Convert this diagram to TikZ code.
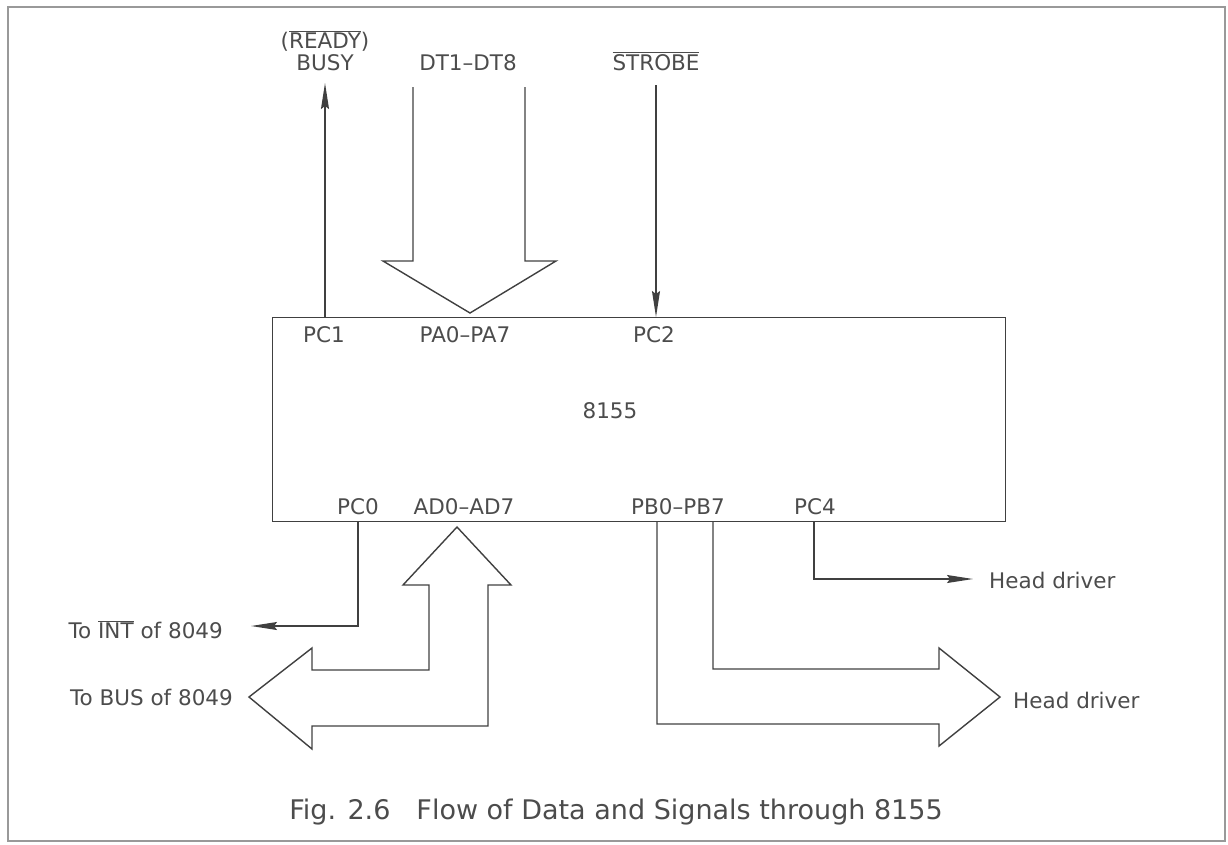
\documentclass[tikz,border=0pt]{standalone}
\usepackage{fontspec}
\setmainfont{DejaVu Sans}
\usepackage{tikz}
\usetikzlibrary{arrows.meta}
\usetikzlibrary{shapes,arrows}
\usetikzlibrary{calc}

\begin{document}
\begin{tikzpicture}[x=1pt,y=-1pt]
\tikzstyle{etiq}=[inner sep=0pt,anchor=base,text=black!70,font=\fontsize{21.5}{24}\selectfont]
\tikzstyle{boitier}=[rectangle,draw=black!75,line width=1.4pt,inner sep=0pt,anchor=north west]
\tikzstyle{bus}=[draw=black!75,line width=1.4pt,line join=miter]
\tikzstyle{suite}=[-{Stealth[length=26pt,width=8pt,inset=3pt]},draw=black!75,line width=1.4pt]

\useasboundingbox (0,0) rectangle (1228,844);
\draw[black!40,line width=1.2pt] (8,7) rectangle (1225,841);

\node[boitier,minimum width=733pt,minimum height=204pt] (puce) at (272,317) {};
\node[etiq] (nom) at (610,418) {8155};

\node[etiq] (lready) at (325,48) {($\overline{\mbox{READY}}$)};
\node[etiq] (lbusy) at (325,70) {BUSY};
\node[etiq] (ldt) at (468,70) {DT1–DT8};
\node[etiq] (lstrobe) at (656,70) {$\overline{\mbox{STROBE}}$};

\node[etiq] (lpc1) at (324,342) {PC1};
\node[etiq] (lpa) at (465,342) {PA0–PA7};
\node[etiq] (lpc2) at (654,342) {PC2};
\node[etiq] (lpc0) at (358,514) {PC0};
\node[etiq] (lad) at (464,514) {AD0–AD7};
\node[etiq] (lpb) at (678,514) {PB0–PB7};
\node[etiq] (lpc4) at (815,514) {PC4};

\node[etiq,anchor=base east] (lint) at (223,638) {To $\overline{\mbox{INT}}$ of 8049};
\node[etiq,anchor=base east] (lbus) at (233,705) {To BUS of 8049};
\node[etiq,anchor=base west] (ltete) at (989,588) {Head driver};
\node[etiq,anchor=base west] (ltetes) at (1013,708) {Head driver};

\node[etiq,font=\fontsize{27}{32}\selectfont] (legende) at (616,819)
  {Fig. 2.6\hspace{26pt}Flow of Data and Signals through 8155};

\coordinate (pc1) at (325,317);
\coordinate (busy) at (325,83);
\coordinate (strobe) at (656,85);
\coordinate (pc2) at (656,317);
\coordinate (pc0) at (358,521);
\coordinate (int) at (251,626);
\coordinate (pc4) at (814,521);
\coordinate (tete) at (973,579);
\coordinate (pa) at (470,313);
\coordinate (ad) at (457,527);
\coordinate (pb) at (1000,697);

\draw[suite] (pc1) -- (busy);
\draw[suite] (strobe) -- (pc2);
\draw[suite] (pc0) |- (int);
\draw[suite] (pc4) |- (tete);

\draw[bus] (413,87) |- ($(pa)+(-87,-52)$) -- (pa) -- ($(pa)+(86,-52)$) -| (525,87);
\draw[bus] (ad) -- ++(54,58) -- ++(-23,0) |- (312,726) -- ++(0,23) -- (249,697)
  -- (312,648) -- ++(0,22) -| (429,585) -- ++(-26,0) -- cycle;
\draw[bus] (657,521) |- (939,724) -- ++(0,22) -- (pb) -- (939,648) -- ++(0,21) -| (713,521);

\end{tikzpicture}
\end{document}
